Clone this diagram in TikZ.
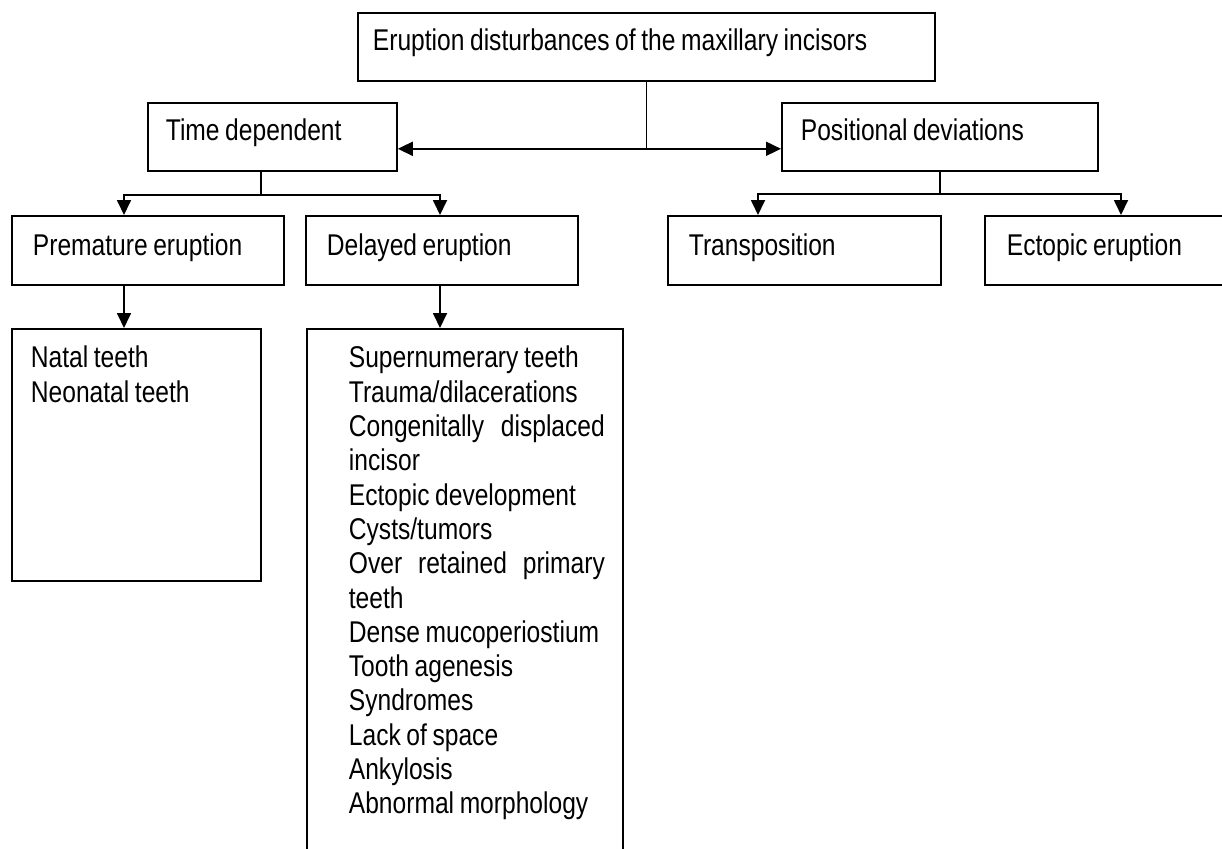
\documentclass[tikz,border=0pt]{standalone}
\usepackage{fontspec}
\setmainfont{Liberation Sans}[FakeStretch=0.82, WordSpace=0.82]
\usetikzlibrary{arrows.meta,positioning,calc}

\begin{document}
\begin{tikzpicture}[x=1pt, y=-1pt, line width=1.8pt,
  box/.style={draw, anchor=north west, inner ysep=0pt, align=flush left,
    font=\fontsize{30}{34.3}\selectfont},
  toprow/.style={box, text height=38pt, text depth=30pt},
  lowrow/.style={box, text height=40pt, text depth=29pt},
  arr/.style={-{Triangle[length=15pt,width=14pt]}}]
  \useasboundingbox (0,0) rectangle (1222,848);

  % Top level
  \node[toprow, inner xsep=15pt, text width=547pt] (root) at (357,12) {Eruption disturbances of the maxillary incisors};
  \node[toprow, inner xsep=18pt, text width=213pt] (time) at (147,102) {Time dependent};
  \node[toprow, inner xsep=19pt, text width=278pt] (pos) at (781,102) {Positional deviations};

  % Second row
  \node[lowrow, inner xsep=21pt, text width=230pt] (prem) at (11,215) {Premature eruption};
  \node[lowrow, inner xsep=21pt, text width=230pt] (del) at (305,215) {Delayed eruption};
  \node[lowrow, inner xsep=21pt, text width=231pt] (trans) at (667,215) {Transposition};
  \node[lowrow, inner xsep=22pt, text width=216pt] (ect) at (984,215) {Ectopic eruption};

  % Lists
  \node[box, inner xsep=19pt, text width=211pt, text height=39pt, text depth=213pt] (natal) at (11,328) {Natal teeth\\Neonatal teeth};
  \node[box, inner xsep=18pt, text width=280pt, text height=39pt, text depth=491pt,
    execute at begin node={\leftskip=24pt}] (list) at (306,328)
    {Supernumerary teeth\\Trauma/dilacerations\\Congenitally\hfill displaced\\incisor\\Ectopic development\\Cysts/tumors\\Over\hfill retained\hfill primary\\teeth\\Dense mucoperiostium\\Tooth agenesis\\Syndromes\\Lack of space\\Ankylosis\\Abnormal morphology};

  % Root to both groups
  \path (root.south) ++(0,67) coordinate (hub);
  \draw (root.south) -- (hub);
  \draw[arr] (hub) -- (hub -| time.east);
  \draw[arr] (hub) -- (hub -| pos.west);

  % Time dependent branch
  \path (time.south west) ++(114,23) coordinate (tsplit);
  \draw (tsplit |- time.south) -- (tsplit);
  \draw[arr] (tsplit) -| ([xshift=113pt]prem.north west);
  \draw[arr] (tsplit) -| ([xshift=135pt]del.north west);
  \draw[arr] ([xshift=113pt]prem.south west) -- ([xshift=113pt]natal.north west);
  \draw[arr] ([xshift=135pt]del.south west) -- ([xshift=134pt]list.north west);

  % Positional branch
  \path (pos.south) ++(0,22) coordinate (psplit);
  \draw (pos.south) -- (psplit);
  \draw[arr] (psplit) -| ([xshift=91pt]trans.north west);
  \draw[arr] (psplit) -| ([xshift=137pt]ect.north west);
\end{tikzpicture}
\end{document}
